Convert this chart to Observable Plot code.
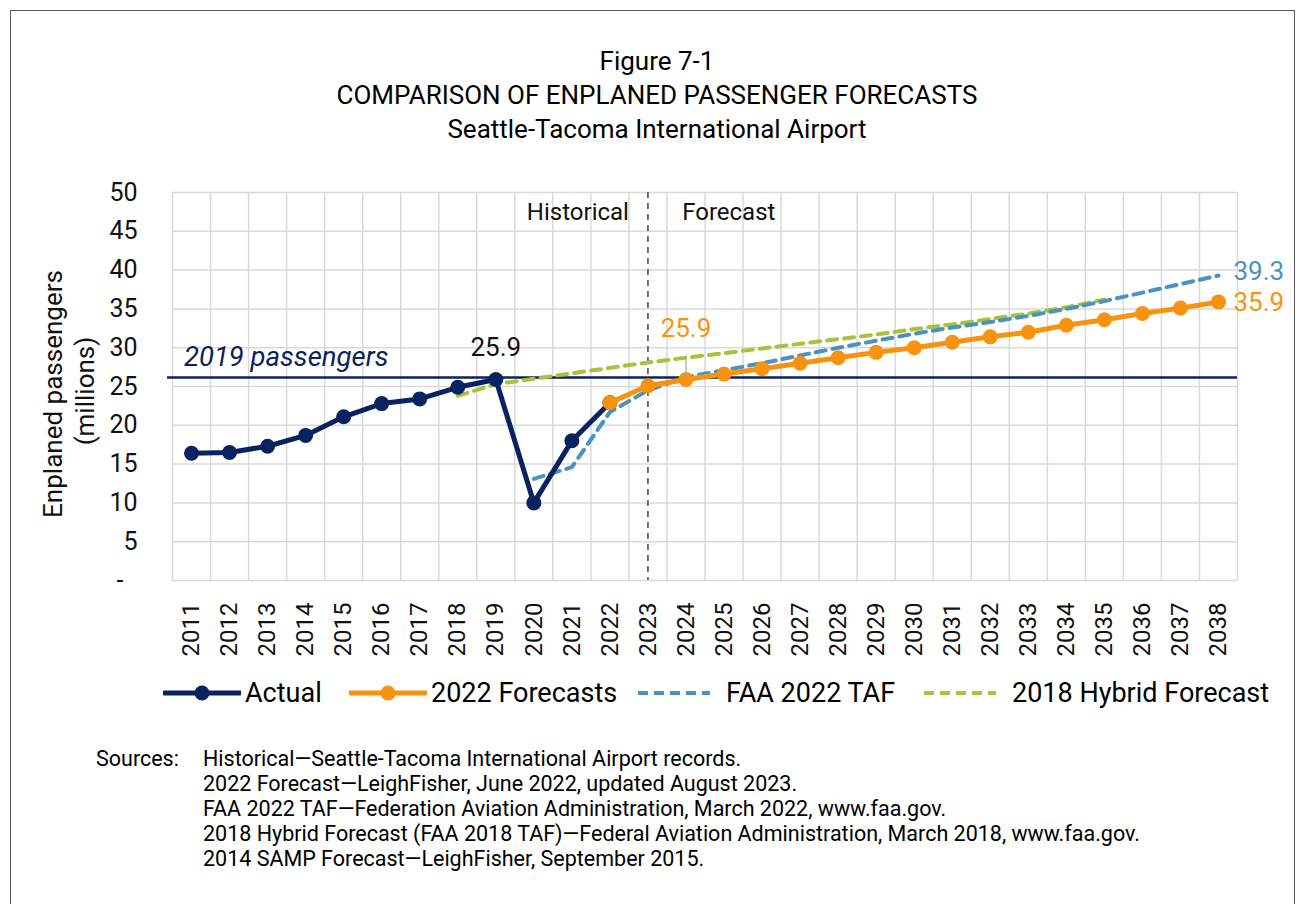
<!DOCTYPE html>
<html>
<head>
<meta charset="utf-8">
<script src="https://cdn.jsdelivr.net/npm/d3@7"></script>
<script src="https://cdn.jsdelivr.net/npm/@observablehq/plot@0.6"></script>
<style>
  html, body { margin: 0; padding: 0; background: #fff; }
  body { width: 1306px; height: 904px; position: relative; overflow: hidden; font-family: Roboto, "Liberation Sans", sans-serif; color: #000; }
  #frame { position: absolute; left: 10px; top: 10px; width: 1285px; height: 920px; border: 1.5px solid #5a5a5a; box-sizing: border-box; }
  #title { position: absolute; left: 8px; width: 1298px; top: 44px; text-align: center; font-size: 26px; line-height: 34px; }
  #chart { position: absolute; left: 0; top: 0; }
  .leg { position: absolute; top: 676px; height: 34px; display: flex; align-items: center; font-size: 27px; white-space: nowrap; }
  .leg svg { margin-right: 4px; }
  #sources { position: absolute; top: 746px; left: 96px; font-size: 21.5px; line-height: 25px; }
  #sources .lbl { position: absolute; left: 0; top: 0; }
  #sources .body { position: absolute; left: 107px; top: 0; white-space: nowrap; }
</style>
</head>
<body>
<div id="frame"></div>
<div id="chart"></div>
<div id="title">Figure 7-1<br>COMPARISON OF ENPLANED PASSENGER FORECASTS<br>Seattle-Tacoma International Airport</div>
<div id="legend"></div>
<div id="sources"><div class="lbl">Sources:</div><div class="body" id="srcbody"></div></div>
<script>
// ---------------- data ----------------
const years = [2011, 2012, 2013, 2014, 2015, 2016, 2017, 2018, 2019, 2020, 2021, 2022, 2023, 2024,
  2025, 2026, 2027, 2028, 2029, 2030, 2031, 2032, 2033, 2034, 2035, 2036, 2037, 2038];

const actualYears = [2011, 2012, 2013, 2014, 2015, 2016, 2017, 2018, 2019, 2020, 2021, 2022];
const actualValues = [16.4, 16.5, 17.3, 18.7, 21.1, 22.8, 23.4, 24.9, 25.9, 10.0, 18.0, 22.9];

const forecastYears = [2022, 2023, 2024, 2025, 2026, 2027, 2028, 2029, 2030, 2031, 2032, 2033, 2034, 2035, 2036, 2037, 2038];
const forecastValues = [22.9, 25.1, 25.9, 26.6, 27.3, 28.0, 28.7, 29.4, 30.0, 30.7, 31.4, 32.0, 32.9, 33.6, 34.4, 35.1, 35.9];

const faaYears = [2020, 2021, 2022, 2023, 2024, 2025, 2026, 2027, 2028, 2029, 2030, 2031, 2032, 2033, 2034, 2035, 2036, 2037, 2038];
const faaValues = [13.1, 14.6, 21.7, 24.5, 26.2, 27.1, 28.0, 29.0, 30.0, 30.9, 31.8, 32.6, 33.3, 34.1, 35.0, 36.0, 37.1, 38.2, 39.3];

const hybridYears = [2018, 2019, 2020, 2021, 2022, 2023, 2024, 2025, 2026, 2027, 2028, 2029, 2030, 2031, 2032, 2033, 2034, 2035];
const hybridValues = [23.8, 25.3, 26.0, 26.7, 27.4, 28.1, 28.7, 29.3, 29.9, 30.5, 31.1, 31.7, 32.4, 33.0, 33.7, 34.4, 35.2, 36.2];

const passengers2019 = 26.15;
const dividerYear = 2023;
const yTicks = [0, 5, 10, 15, 20, 25, 30, 35, 40, 45, 50];

const seriesNames = ["Actual", "2022 Forecasts", "FAA 2022 TAF", "2018 Hybrid Forecast"];
const sourceLines = [
  "Historical\u2014Seattle-Tacoma International Airport records.",
  "2022 Forecast\u2014LeighFisher, June 2022, updated August 2023.",
  "FAA 2022 TAF\u2014Federation Aviation Administration, March 2022, www.faa.gov.",
  "2018 Hybrid Forecast (FAA 2018 TAF)\u2014Federal Aviation Administration, March 2018, www.faa.gov.",
  "2014 SAMP Forecast\u2014LeighFisher, September 2015."
];

// ---------------- styles ----------------
const C_ACTUAL = "#0b2260";
const C_FCST = "#f7930f";
const C_FAA = "#4a92c0";
const C_HYB = "#a8c23a";
const C_GRID = "#d9d9d9";

const toRows = (xs, ys) => xs.map((x, i) => ({year: x, value: ys[i]}));
const actual = toRows(actualYears, actualValues);
const forecast = toRows(forecastYears, forecastValues);
const faa = toRows(faaYears, faaValues);
const hybrid = toRows(hybridYears, hybridValues);

const boundaries = d3.range(years[0] - 0.5, years[years.length - 1] + 1, 1);

const chart = Plot.plot({
  width: 1306,
  height: 670,
  marginLeft: 172,
  marginRight: 69,
  marginTop: 192,
  marginBottom: 90,
  style: {fontFamily: "Roboto, 'Liberation Sans', sans-serif", background: "transparent", overflow: "visible"},
  x: {type: "linear", domain: [years[0] - 0.5, years[years.length - 1] + 0.5]},
  y: {type: "linear", domain: [0, 50]},
  marks: [
    Plot.gridX(boundaries, {stroke: C_GRID, strokeOpacity: 1, strokeWidth: 1.5}),
    Plot.gridY(yTicks, {stroke: C_GRID, strokeOpacity: 1, strokeWidth: 1.5}),
    Plot.axisY(yTicks, {tickSize: 0, tickPadding: 35, fontSize: 25, fill: "#111",
      tickFormat: d => d === 0 ? "-\u2007" : String(d), label: null}),
    Plot.axisX(years, {tickSize: 0, tickPadding: 22, tickRotate: -90, fontSize: 24, fill: "#111",
      tickFormat: d => String(d), label: null}),
    Plot.ruleX([dividerYear], {stroke: "#2e4b60", strokeWidth: 1.5, strokeDasharray: "6,5"}),
    Plot.ruleY([passengers2019], {x1: years[0] - 0.63, x2: years[years.length - 1] + 0.5, stroke: C_ACTUAL, strokeWidth: 2.5}),
    Plot.text(["2019 passengers"], {x: years[0] - 0.2, y: passengers2019, dy: -20, text: d => d, textAnchor: "start",
      fontSize: 27.5, fontStyle: "italic", fill: C_ACTUAL}),
    Plot.text(["Historical"], {x: dividerYear - 0.5, y: 50, dy: 20, text: d => d, textAnchor: "end", fontSize: 24, fill: "#111"}),
    Plot.text(["Forecast"], {x: dividerYear + 0.9, y: 50, dy: 20, text: d => d, textAnchor: "start", fontSize: 24, fill: "#111"}),
    Plot.line(hybrid, {x: "year", y: "value", stroke: C_HYB, strokeWidth: 4, strokeDasharray: "10,7"}),
    Plot.line(faa, {x: "year", y: "value", stroke: C_FAA, strokeWidth: 4, strokeDasharray: "10,7"}),
    Plot.line(actual, {x: "year", y: "value", stroke: C_ACTUAL, strokeWidth: 5}),
    Plot.dot(actual, {x: "year", y: "value", r: 7.5, fill: C_ACTUAL}),
    Plot.line(forecast, {x: "year", y: "value", stroke: C_FCST, strokeWidth: 5}),
    Plot.dot(forecast, {x: "year", y: "value", r: 7.5, fill: C_FCST}),
    // labels
    Plot.text([actual[8]], {x: "year", y: "value", dy: -32, text: d => d.value.toFixed(1), fontSize: 26, fill: "#111"}),
    Plot.link([forecast[2]], {x1: "year", x2: "year", y1: d => d.value + 3.1, y2: "value", stroke: "#a6a6a6", strokeWidth: 1.2}),
    Plot.text([forecast[2]], {x: "year", y: "value", dy: -51, text: d => d.value.toFixed(1), fontSize: 26, fill: C_FCST}),
    Plot.text([faa[faa.length - 1]], {x: "year", y: "value", dx: 15, dy: -4, textAnchor: "start", text: d => d.value.toFixed(1), fontSize: 26, fill: C_FAA}),
    Plot.text([forecast[forecast.length - 1]], {x: "year", y: "value", dx: 15, dy: 1, textAnchor: "start", text: d => d.value.toFixed(1), fontSize: 26, fill: C_FCST})
  ]
});
document.getElementById("chart").appendChild(chart);

// y-axis title (two lines, rotated)
const svg = d3.select(chart);
svg.append("text")
  .attr("transform", "translate(53,394) rotate(-90)")
  .attr("text-anchor", "middle").attr("dy", "0.35em")
  .attr("font-size", 26).attr("fill", "#111")
  .text("Enplaned passengers");
svg.append("text")
  .attr("transform", "translate(85,391) rotate(-90)")
  .attr("text-anchor", "middle").attr("dy", "0.35em")
  .attr("font-size", 26).attr("fill", "#111")
  .text("(millions)");

// legend
const legendSpecs = [
  {name: seriesNames[0], color: C_ACTUAL, dashed: false, left: 163},
  {name: seriesNames[1], color: C_FCST, dashed: false, left: 349},
  {name: seriesNames[2], color: C_FAA, dashed: true, left: 636},
  {name: seriesNames[3], color: C_HYB, dashed: true, left: 922}
];
const legend = document.getElementById("legend");
legendSpecs.forEach(s => {
  const item = document.createElement("div");
  item.className = "leg";
  item.style.left = s.left + "px";
  const w = s.dashed ? 76 : 78;
  const sw = d3.create("svg").attr("width", w).attr("height", 20);
  if (s.dashed) {
    sw.append("line").attr("x1", 2).attr("x2", w - 2).attr("y1", 10).attr("y2", 10)
      .attr("stroke", s.color).attr("stroke-width", 4).attr("stroke-dasharray", "10,6");
  } else {
    sw.append("line").attr("x1", 1).attr("x2", w - 1).attr("y1", 10).attr("y2", 10)
      .attr("stroke", s.color).attr("stroke-width", 5).attr("stroke-linecap", "round");
    sw.append("circle").attr("cx", w / 2).attr("cy", 10).attr("r", 7.5).attr("fill", s.color);
  }
  item.appendChild(sw.node());
  const t = document.createElement("span");
  t.textContent = s.name;
  if (s.dashed) t.style.marginLeft = "10px";
  item.appendChild(t);
  legend.appendChild(item);
});

// sources
const sb = document.getElementById("srcbody");
sourceLines.forEach(l => { const d = document.createElement("div"); d.textContent = l; sb.appendChild(d); });
</script>
</body>
</html>
